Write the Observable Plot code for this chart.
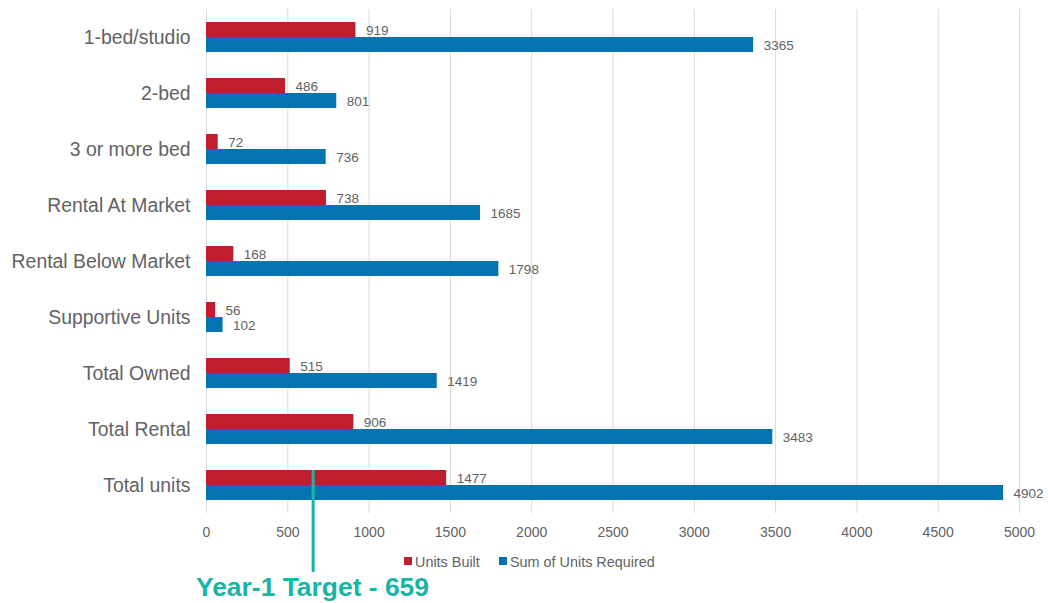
<!DOCTYPE html>
<html><head><meta charset="utf-8">
<script src="https://cdn.jsdelivr.net/npm/d3@7"></script>
<script src="https://cdn.jsdelivr.net/npm/@observablehq/plot@0.6"></script>
<style>
html,body{margin:0;padding:0;background:#fff;}
#chart{width:1048px;height:603px;}
</style></head>
<body><div id="chart"></div>
<script>
const categories = ["1-bed/studio","2-bed","3 or more bed","Rental At Market","Rental Below Market","Supportive Units","Total Owned","Total Rental","Total units"];
const unitsBuilt = [919,486,72,738,168,56,515,906,1477];
const unitsRequired = [3365,801,736,1685,1798,102,1419,3483,4902];
const xTicks = [0,500,1000,1500,2000,2500,3000,3500,4000,4500,5000];
const seriesNames = ["Units Built","Sum of Units Required"];
const seriesColors = ["#BE1E2D","#0473B1"];
const targetValue = 659;
const targetLabel = "Year-1 Target - " + targetValue;

const built = categories.map((c,i)=>({category:c, value:unitsBuilt[i]}));
const req = categories.map((c,i)=>({category:c, value:unitsRequired[i]}));

const font = "Liberation Sans, Arial, sans-serif";
const grey = "#626262";

const plot = Plot.plot({
  width: 1048, height: 603,
  marginLeft: 206, marginRight: 29, marginTop: 9, marginBottom: 90,
  style: {fontFamily: font, background: "#fff"},
  x: {domain: [0,5000], ticks: xTicks, label: null},
  y: {domain: categories, paddingInner: 0.464, paddingOuter: 0.232, round: false, label: null},
  marks: [
    Plot.gridX(xTicks, {stroke: "#D9D9D9", strokeOpacity: 1, strokeWidth: 1}),
    Plot.barX(built, {y: "category", x: "value", fill: seriesColors[0], insetBottom: 15}),
    Plot.barX(req, {y: "category", x: "value", fill: seriesColors[1], insetTop: 15}),
    Plot.text(built, {y: "category", x: "value", text: d=>String(d.value), textAnchor: "start", dx: 10, dy: -7, fill: grey, fontSize: 13.5}),
    Plot.text(req, {y: "category", x: "value", text: d=>String(d.value), textAnchor: "start", dx: 10, dy: 8, fill: grey, fontSize: 13.5}),
    Plot.axisY({tickSize: 0, tickPadding: 16, fontSize: 19.4, color: grey, label: null}),
    Plot.axisX(xTicks, {tickSize: 0, tickPadding: 14, fontSize: 14, color: grey, label: null, tickFormat: d=>String(d)})
  ]
});
document.getElementById("chart").appendChild(plot);

// annotations using the plot's own x scale
const sx = plot.scale("x");
const svg = d3.select(plot);
const tx = sx.apply(targetValue);
svg.append("line").attr("x1", tx).attr("x2", tx).attr("y1", 470).attr("y2", 572)
  .attr("stroke", "#17B5A5").attr("stroke-width", 3);
svg.append("text").attr("x", 196).attr("y", 596).attr("text-anchor", "start").text(targetLabel)
  .attr("fill", "#17B5A5").attr("font-family", font).attr("font-weight", "bold").attr("font-size", 25)
  .attr("textLength", 233).attr("lengthAdjust", "spacingAndGlyphs");

// legend
const lg = svg.append("g").attr("font-family", font).attr("font-size", 14.4).attr("fill", grey).attr("text-anchor", "start");
const legendX = [404, 499];
seriesNames.forEach((n,i)=>{
  lg.append("rect").attr("x", legendX[i]).attr("y", 557).attr("width", 8).attr("height", 8).attr("fill", seriesColors[i]);
  lg.append("text").attr("x", legendX[i]+11).attr("y", 567).text(n);
});
</script></body></html>
